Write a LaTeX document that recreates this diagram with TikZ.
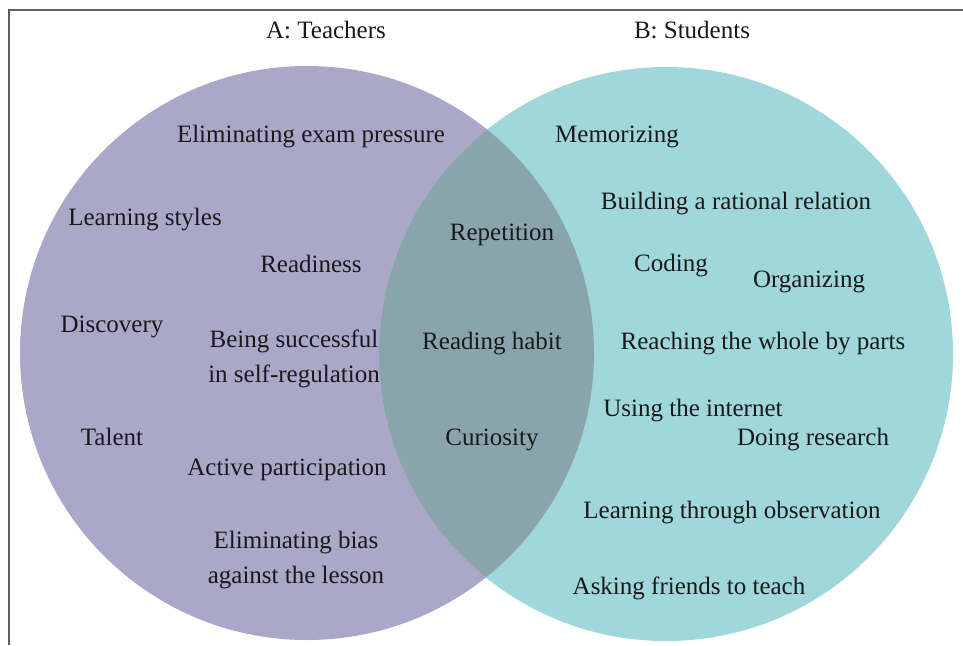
\documentclass[tikz,border=0pt]{standalone}
\usepackage{fontspec}
\setmainfont{Liberation Serif}
\definecolor{teachc}{RGB}{170,167,201}
\definecolor{studc}{RGB}{160,215,218}
\definecolor{bothc}{RGB}{138,164,172}
\definecolor{framec}{RGB}{95,95,95}
\definecolor{txtc}{RGB}{25,25,25}
\begin{document}
\begin{tikzpicture}[x=1pt,y=-1pt,
  lbl/.style={anchor=base,inner sep=0pt,font=\fontsize{25}{35}\selectfont,text=txtc,align=center},
  framel/.style={draw=framec,line width=1.6pt}]
\useasboundingbox (0,0) rectangle (963,645);
\fill[white] (0,0) rectangle (963,645);
% circles
\coordinate (cA) at (307,353);
\coordinate (cB) at (666,354);
\fill[teachc] (cA) circle[radius=287];
\fill[studc] (cB) circle[radius=287];
\begin{scope}
  \clip (cA) circle[radius=287];
  \fill[bothc] (cB) circle[radius=287];
\end{scope}
% frame
\coordinate (f0) at (9,645);
\coordinate (f1) at (9,10);
\coordinate (f2) at (963,10);
\draw[framel] (f0) -- (f1) -- (f2);
% titles
\node[lbl] (tA) at (326,38) {A: Teachers};
\node[lbl] (tB) at (692,38) {B: Students};
% teachers
\node[lbl] (a1) at (311,142) {Eliminating exam pressure};
\node[lbl] (a2) at (145,225) {Learning styles};
\node[lbl] (a3) at (311,272) {Readiness};
\node[lbl] (a4) at (112,332) {Discovery};
\node[lbl] (a5) at (294,382) {Being successful\\in self-regulation};
\node[lbl] (a6) at (112,445) {Talent};
\node[lbl] (a7) at (287,475) {Active participation};
\node[lbl] (a8) at (296,583) {Eliminating bias\\against the lesson};
% both
\node[lbl] (c1) at (502,240) {Repetition};
\node[lbl] (c2) at (492,349) {Reading habit};
\node[lbl] (c3) at (492,445) {Curiosity};
% students
\node[lbl] (b1) at (617,142) {Memorizing};
\node[lbl] (b2) at (736,209) {Building a rational relation};
\node[lbl] (b3) at (671,271) {Coding};
\node[lbl] (b4) at (809,287) {Organizing};
\node[lbl] (b5) at (763,349) {Reaching the whole by parts};
\node[lbl] (b6) at (693,416) {Using the internet};
\node[lbl] (b7) at (813,445) {Doing research};
\node[lbl] (b8) at (732,518) {Learning through observation};
\node[lbl] (b9) at (689,594) {Asking friends to teach};
\end{tikzpicture}
\end{document}
